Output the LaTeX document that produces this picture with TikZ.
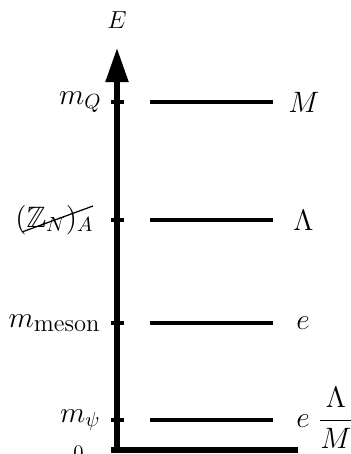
\documentclass[tikz,border=0pt]{standalone}
\usepackage{amsmath,amssymb}
\usetikzlibrary{arrows.meta}

\tikzset{
  axisline/.style={line width=2.6pt},
  lvl/.style={line width=1.95pt},
  tk/.style={line width=1.95pt},
  lab/.style={font=\Large, inner sep=0pt},
}

\begin{document}
\begin{tikzpicture}[x=0.488pt,y=-0.488pt]
\useasboundingbox (0,0) rectangle (351,454);
\draw[axisline, -{Triangle[length=16.6pt, width=10.7pt]}] (117,452) -- (117,48);
\draw[axisline] (111,450) -- (298,450);
\node[font=\large] (E) at (117,20) {$E$};
\node[anchor=north, inner sep=0pt] (zero) at (78.5,446) {$0$};
\foreach \y in {102,220,323,420} {
  \draw[tk] (111,\y) -- (124,\y);
  \draw[lvl] (150,\y) -- (273,\y);
}
\node[lab, anchor=east] (mQ) at (102,102) {$m_Q$};
\node[lab, anchor=east] (zn) at (94,220) {$(\mathbb{Z}_N)_A$};
\draw[line width=0.6pt] (22,232) -- (93,206);
\node[lab, anchor=east] (mmes) at (101,323) {$m_{\text{\large meson}}$};
\node[lab, anchor=east] (mpsi) at (101,420) {$m_\psi$};
\node[lab, anchor=west] (M) at (288,102) {$M$};
\node[lab, anchor=west] (Lam) at (293,220) {$\Lambda$};
\node[lab, anchor=west] (e) at (296,323) {$e$};
\node[lab, anchor=west] (eLM) at (296,418) {$e\;\dfrac{\Lambda}{M}$};
\end{tikzpicture}
\end{document}
